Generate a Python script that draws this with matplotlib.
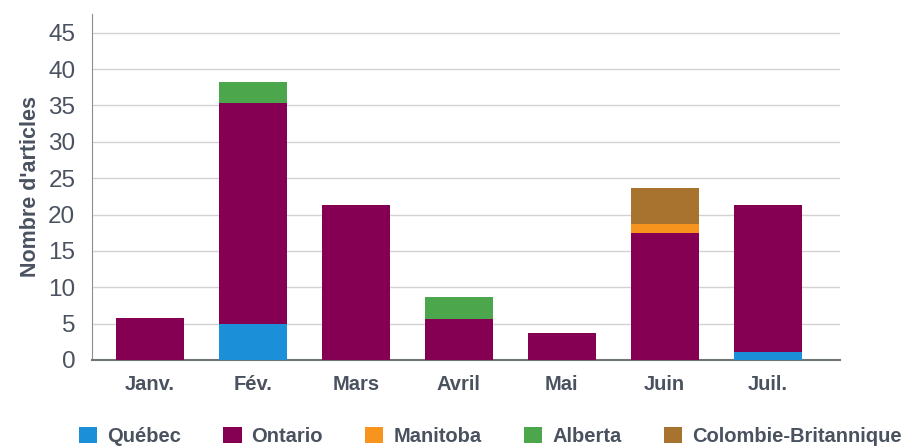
import matplotlib.pyplot as plt
import numpy as np

plt.rcParams['font.family'] = ['Liberation Sans', 'DejaVu Sans']

months = ["Janv.", "Fév.", "Mars", "Avril", "Mai", "Juin", "Juil."]
quebec = [0, 5, 0, 0, 0, 0, 1.1]
ontario = [5.7, 30.3, 21.3, 5.6, 3.7, 17.4, 20.2]
manitoba = [0, 0, 0, 0, 0, 1.3, 0]
alberta = [0, 2.9, 0, 3.0, 0, 0, 0]
colombie = [0, 0, 0, 0, 0, 5.0, 0]

series = [
    ("Québec", quebec, "#1b8fd8"),
    ("Ontario", ontario, "#850052"),
    ("Manitoba", manitoba, "#f7941e"),
    ("Alberta", alberta, "#4ca64c"),
    ("Colombie-Britannique", colombie, "#a8732f"),
]

text_col = "#4a5260"

fig = plt.figure(figsize=(9.13, 4.46), dpi=100)
ax = fig.add_axes([0.1008, 0.193, 0.819, 0.776])

x = np.arange(len(months))
bottom = np.zeros(len(months))
for name, vals, col in series:
    vals = np.array(vals)
    ax.bar(x, vals, 0.66, bottom=bottom, color=col, label=name, zorder=3)
    bottom += vals

ax.set_xlim(-0.56, 6.7)
ax.set_ylim(0, 47.6)
ax.set_yticks(range(0, 50, 5))
ax.set_xticks(x)
ax.set_xticklabels(months, fontsize=14.5, fontweight='bold', color=text_col)
ax.tick_params(axis='y', length=0, pad=12, labelsize=17.5, labelcolor=text_col)
ax.tick_params(axis='x', length=0, pad=11)
ax.grid(axis='y', color='#d2d2d2', linewidth=1, zorder=0)

for s in ['top', 'right']:
    ax.spines[s].set_visible(False)
ax.spines['left'].set_color('#8a8f96')
ax.spines['bottom'].set_color('#6f7479')
ax.spines['bottom'].set_linewidth(1.5)

ax.set_ylabel("Nombre d'articles", fontsize=15.5, fontweight='bold', color=text_col, labelpad=5)

leg = fig.legend(loc='center', bbox_to_anchor=(0.537, 0.022), ncol=5, frameon=False,
                 handlelength=0.9, handleheight=0.9, handletextpad=0.5, columnspacing=2.1,
                 prop={'size': 14.5, 'weight': 'bold'})
for t in leg.get_texts():
    t.set_color(text_col)

fig.savefig("out.png", dpi=100)
